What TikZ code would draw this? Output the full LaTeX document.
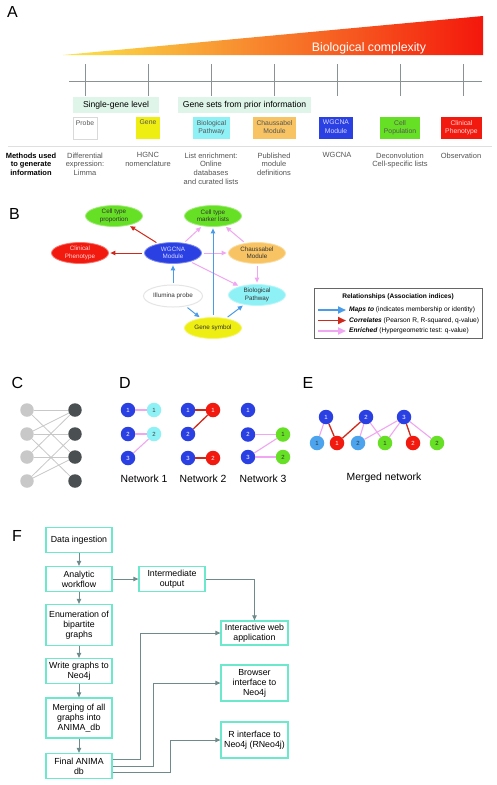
\documentclass[tikz,border=0pt]{standalone}
\usepackage{fontspec}
\setmainfont{Liberation Sans}
\usetikzlibrary{arrows.meta,shapes.geometric,calc}
\definecolor{cBlue}{HTML}{2B40E3}
\definecolor{cCyan}{HTML}{8EF1F6}
\definecolor{cRed}{HTML}{F2190E}
\definecolor{cGreen}{HTML}{66E024}
\definecolor{cYellow}{HTML}{EEEE12}
\definecolor{cOrange}{HTML}{F8C463}
\definecolor{cLBlue}{HTML}{4CA3EE}
\definecolor{aBlue}{HTML}{4A9CE8}
\definecolor{aRed}{HTML}{D0281A}
\definecolor{aPink}{HTML}{F1A6F1}
\definecolor{mint}{HTML}{DFF5E9}
\definecolor{fBorder}{HTML}{6CE8CC}
\definecolor{fArrow}{HTML}{6E8A8A}
\definecolor{axisgray}{HTML}{8A9393}
\definecolor{txtgray}{HTML}{555555}
\definecolor{lgray}{HTML}{C8C8C8}
\definecolor{dgray}{HTML}{4A4F52}
\definecolor{gradL}{HTML}{FBE64A}
\definecolor{gradM}{HTML}{F7922E}
\definecolor{gradR}{HTML}{F4170C}
\begin{document}
\begin{tikzpicture}[x=1pt,y=-1pt,
  plabel/.style={inner sep=0, font=\fontsize{16}{16}\selectfont},
  abox/.style={minimum height=22, inner sep=0},
  atext/.style={inner sep=0, anchor=north, align=center, font=\fontsize{6.8}{8.5}\selectfont},
  mtext/.style={inner sep=0, anchor=north, align=center, text=txtgray, font=\fontsize{7.5}{8.7}\selectfont},
  ell/.style={ellipse, minimum width=57, minimum height=21, inner sep=0, align=center, font=\fontsize{6.3}{7.4}\selectfont},
  barr/.style={draw=aBlue, line width=1, -{Triangle[length=5pt,width=4.5pt]}, shorten >=1.5pt, shorten <=2pt},
  rarr/.style={draw=aRed, line width=1, -{Triangle[length=5pt,width=4.5pt]}, shorten >=1.5pt, shorten <=2pt},
  parr/.style={draw=aPink, line width=1, -{Triangle[length=5pt,width=4.5pt]}, shorten >=1.5pt, shorten <=2pt},
  ltext/.style={inner sep=0, anchor=west, font=\fontsize{6.6}{7.5}\selectfont},
  cnode/.style={circle, minimum size=13.5, inner sep=0},
  cedge/.style={draw=lgray, line width=0.8},
  dnode/.style={circle, minimum size=14.5, inner sep=0, font=\fontsize{6}{6}\selectfont},
  pedge/.style={draw=aPink, line width=1.1},
  redge/.style={draw=aRed, line width=1.3},
  netlab/.style={inner sep=0, font=\fontsize{10.4}{12}\selectfont},
  fbox/.style={draw=fBorder, line width=1.3, minimum width=66, inner sep=0, align=center, font=\fontsize{8.8}{10}\selectfont},
  farr/.style={draw=fArrow, line width=0.9, -{Triangle[length=5pt,width=4.5pt]}}
]
\useasboundingbox (0,0) rectangle (497,785);
\fill[white] (0,0) rectangle (497,785);

% ---------------- Panel A ----------------
\node[plabel] (lA) at (12.5,12) {A};
\shade[left color=gradL, middle color=gradM, right color=gradR]
  (63,55) -- (483,16) -- (483,55) -- cycle;
\node[inner sep=0, text=white, font=\fontsize{12.3}{14}\selectfont] (bc) at (369,48) {Biological complexity};
\draw[axisgray, line width=0.9] (69,81) -- (482,81);
\foreach \x in {85,148,211,274,337,400,463} \draw[axisgray, line width=0.9] (\x,64) -- (\x,96);
\node[fill=mint, minimum width=86, minimum height=16, inner sep=0, font=\fontsize{8.6}{10}\selectfont] (sgl) at (116,105) {Single-gene level};
\node[fill=mint, minimum width=133, minimum height=16, inner sep=0, font=\fontsize{8.6}{10}\selectfont] (gsp) at (244.5,105) {Gene sets from prior information};

\node[abox, minimum width=24, fill=white, draw=gray!30, line width=0.8] (bProbe) at (85,128) {};
\node[atext, text=txtgray] (tProbe) at (85,120) {Probe};
\node[abox, minimum width=24, fill=cYellow] (bGene) at (148,128) {};
\node[atext, text=txtgray] (tGene) at (148,120) {Gene};
\node[abox, minimum width=37, fill=cCyan] (bBio) at (211.5,128) {};
\node[atext, text=txtgray] (tBio) at (211.5,120) {Biological\\Pathway};
\node[abox, minimum width=43, fill=cOrange] (bCha) at (274.5,128) {};
\node[atext, text=txtgray] (tCha) at (274.5,120) {Chaussabel\\Module};
\node[abox, minimum width=34, fill=cBlue] (bWG) at (336,128) {};
\node[atext, text=white!85!blue] (tWG) at (336,120) {WGCNA\\Module};
\node[abox, minimum width=40, fill=cGreen] (bCell) at (400,128) {};
\node[atext, text=txtgray] (tCell) at (400,120) {Cell\\Population};
\node[abox, minimum width=41, fill=cRed] (bClin) at (461.5,128) {};
\node[atext, text=white!85!red] (tClin) at (461.5,120) {Clinical\\Phenotype};

\draw[gray!25, line width=0.7] (8,146) -- (492,146);
\node[mtext, text=black, font=\bfseries\fontsize{7.5}{8.7}\selectfont] (mhead) at (31,152.5) {Methods used\\to generate\\information};
\node[mtext] (m1) at (85,152.5) {Differential\\expression:\\Limma};
\node[mtext] (m2) at (148,152.5) {HGNC\\nomenclature};
\node[mtext] (m3) at (211,152.5) {List enrichment:\\Online\\databases\\and curated lists};
\node[mtext] (m4) at (274,152.5) {Published\\module\\definitions};
\node[mtext] (m5) at (337,152.5) {WGCNA};
\node[mtext] (m6) at (400,152.5) {Deconvolution\\Cell-specific lists};
\node[mtext] (m7) at (461,152.5) {Observation};

% ---------------- Panel B ----------------
\node[plabel] (lB) at (14.5,214) {B};
\node[ell, fill=cGreen, draw=cGreen!60!white, line width=0.8, text=black!80] (ctp) at (114,216) {Cell type\\proportion};
\node[ell, fill=cRed, draw=cRed!60!white, line width=0.8, text=white!85!red] (clin) at (80,253) {Clinical\\Phenotype};
\node[ell, fill=cBlue, draw=cBlue!60!white, line width=0.8, text=white!85!blue] (wg) at (173,253) {WGCNA\\Module};
\node[ell, fill=cGreen, draw=cGreen!60!white, line width=0.8, text=black!80] (ctml) at (213,216) {Cell type\\marker lists};
\node[ell, fill=cOrange, draw=cOrange!60!white, line width=0.8, text=black!80] (cha) at (257,253) {Chaussabel\\Module};
\node[ell, fill=cCyan, draw=cCyan!60!white, line width=0.8, text=black!80] (bio) at (257,295) {Biological\\Pathway};
\node[ell, fill=white, draw=gray!20, line width=1, minimum width=59, minimum height=22, text=black!80] (ill) at (173,296) {Illumina probe};
\node[ell, fill=cYellow, draw=cYellow!60!white, line width=0.8, text=black!80] (gs) at (213,328) {Gene symbol};

\draw[rarr] (wg) -- (ctp);
\draw[rarr] (wg) -- (clin);
\draw[parr] (wg) -- (ctml);
\draw[parr] (wg) -- (cha);
\draw[parr] (wg) -- (bio);
\draw[parr] (cha) -- (ctml);
\draw[parr] (cha) -- (bio);
\draw[barr] (ill) -- (wg);
\draw[barr] (ill) -- (gs);
\draw[barr] (gs) -- (ctml);
\draw[barr] (gs) -- (bio);

% legend
\node[draw=gray!80!black, line width=0.8, minimum width=168, minimum height=50, inner sep=0] (leg) at (398,313) {};
\node[inner sep=0, font=\bfseries\fontsize{6.6}{7.5}\selectfont] (legt) at (398,297) {Relationships (Association indices)};
\coordinate (la1) at (318,310); \coordinate (lb1) at (346,310);
\coordinate (la2) at (318,320.5); \coordinate (lb2) at (346,320.5);
\coordinate (la3) at (318,331); \coordinate (lb3) at (346,331);
\draw[draw=aBlue, line width=1.8, -{Triangle[length=8pt,width=7pt]}] (la1) -- (lb1);
\draw[draw=aRed, line width=1.8, -{Triangle[length=8pt,width=7pt]}] (la2) -- (lb2);
\draw[draw=aPink, line width=1.8, -{Triangle[length=8pt,width=7pt]}] (la3) -- (lb3);
\node[ltext] (lt1) at (349,310) {\textbf{\textit{Maps to}} (indicates membership or identity)};
\node[ltext] (lt2) at (349,320.5) {\textbf{\textit{Correlates}} (Pearson R, R-squared, q-value)};
\node[ltext] (lt3) at (349,331) {\textbf{\textit{Enriched}} (Hypergeometric test: q-value)};

% ---------------- Panel C ----------------
\node[plabel] (lC) at (17.5,383) {C};
\foreach \i/\y in {1/410,2/434,3/457,4/481} {
  \node[cnode, fill=lgray] (cl\i) at (27,\y) {};
  \node[cnode, fill=dgray] (cr\i) at (75,\y) {};
}
\draw[cedge] (cl1) -- (cr1);
\draw[cedge] (cl1) -- (cr3);
\draw[cedge] (cl2) -- (cr1);
\draw[cedge] (cl2) -- (cr2);
\draw[cedge] (cl2) -- (cr4);
\draw[cedge] (cl3) -- (cr3);
\draw[cedge] (cl3) -- (cr1);
\draw[cedge] (cl4) -- (cr2);
\draw[cedge] (cl4) -- (cr3);

% ---------------- Panel D ----------------
\node[plabel] (lD) at (125,383) {D};
% network 1
\node[dnode, fill=cBlue, text=white] (a1) at (128,410) {1};
\node[dnode, fill=cBlue, text=white] (a2) at (128,434) {2};
\node[dnode, fill=cBlue, text=white] (a3) at (128,458) {3};
\node[dnode, fill=cCyan, text=black!75] (ac1) at (154,410) {1};
\node[dnode, fill=cCyan, text=black!75] (ac2) at (154,434) {2};
\draw[pedge] (a1) -- (ac1);
\draw[pedge] (a2) -- (ac2);
\draw[pedge] (a3) -- (ac2);
\node[netlab] (n1) at (144,479) {Network 1};
% network 2
\node[dnode, fill=cBlue, text=white] (b1) at (188,410) {1};
\node[dnode, fill=cBlue, text=white] (b2) at (188,434) {2};
\node[dnode, fill=cBlue, text=white] (b3) at (188,458) {3};
\node[dnode, fill=cRed, text=white] (br1) at (213,410) {1};
\node[dnode, fill=cRed, text=white] (br2) at (213,458) {2};
\draw[redge] (b1) -- (br1);
\draw[redge] (b2) -- (br1);
\draw[redge] (b3) -- (br2);
\node[netlab] (n2) at (203,479) {Network 2};
% network 3
\node[dnode, fill=cBlue, text=white] (c1) at (248,410) {1};
\node[dnode, fill=cBlue, text=white] (c2) at (248,434.5) {2};
\node[dnode, fill=cBlue, text=white] (c3) at (248,457) {3};
\node[dnode, fill=cGreen, text=black!80] (cg1) at (283,434.5) {1};
\node[dnode, fill=cGreen, text=black!80] (cg2) at (283,457) {2};
\draw[pedge] (c2) -- (cg1);
\draw[pedge] (c3) -- (cg1);
\draw[pedge] (c3) -- (cg2);
\node[netlab] (n3) at (263,479) {Network 3};

% ---------------- Panel E ----------------
\node[plabel] (lE) at (308,383) {E};
\node[dnode, fill=cBlue, text=white] (e1) at (326,417) {1};
\node[dnode, fill=cBlue, text=white] (e2) at (366,417) {2};
\node[dnode, fill=cBlue, text=white] (e3) at (404,417) {3};
\node[dnode, fill=cLBlue, text=black!80] (eb1) at (317,443) {1};
\node[dnode, fill=cRed, text=white] (er1) at (337,443) {1};
\node[dnode, fill=cLBlue, text=black!80] (eb2) at (358,443) {2};
\node[dnode, fill=cGreen, text=black!80] (eg1) at (385,443) {1};
\node[dnode, fill=cRed, text=white] (er2) at (413,443) {2};
\node[dnode, fill=cGreen, text=black!80] (eg2) at (437,443) {2};
\draw[pedge] (e1) -- (eb1);
\draw[redge] (e1) -- (er1);
\draw[redge] (er1) -- (e2);
\draw[pedge] (e2) -- (eb2);
\draw[pedge] (e2) -- (eg1);
\draw[pedge] (e3) -- (eb2);
\draw[pedge] (e3) -- (eg1);
\draw[redge] (e3) -- (er2);
\draw[pedge] (e3) -- (eg2);
\node[netlab] (n4) at (384,478) {Merged network};

% ---------------- Panel F ----------------
\node[plabel] (lF) at (17,536) {F};
\node[fbox, minimum height=25] (f1) at (79,540) {Data ingestion};
\node[fbox, minimum height=25] (f2) at (79,579) {Analytic\\workflow};
\node[fbox, minimum height=41] (f3) at (79,625) {Enumeration of\\bipartite\\graphs};
\node[fbox, minimum height=25] (f4) at (79,671) {Write graphs to\\Neo4j};
\node[fbox, minimum height=40] (f5) at (79,718) {Merging of all\\graphs into\\ANIMA\_db};
\node[fbox, minimum height=25] (f6) at (79,766) {Final ANIMA\\db};
\node[fbox, minimum height=25] (fi) at (172,579) {Intermediate\\output};
\node[fbox, minimum width=67, minimum height=24] (fw) at (254.5,633) {Interactive web\\application};
\node[fbox, minimum width=67, minimum height=36] (fb) at (254.5,683) {Browser\\interface to\\Neo4j};
\node[fbox, minimum width=67, minimum height=36] (fr) at (254.5,740) {R interface to\\Neo4j (RNeo4j)};

\draw[farr] (f1) -- (f2);
\draw[farr] (f2) -- (f3);
\draw[farr] (f3) -- (f4);
\draw[farr] (f4) -- (f5);
\draw[farr] (f5) -- (f6);
\draw[farr] (f2) -- (fi);
\draw[farr] (fi.east) -| (fw.north);
\draw[farr] ($(f6.east)+(0,-7)$) -| ($(fw.west)+(-80,0)$) -- (fw.west);
\draw[farr] (f6.east) -| ($(fb.west)+(-67,0)$) -- (fb.west);
\draw[farr] ($(f6.east)+(0,6)$) -| ($(fr.west)+(-50,0)$) -- (fr.west);
\end{tikzpicture}
\end{document}
